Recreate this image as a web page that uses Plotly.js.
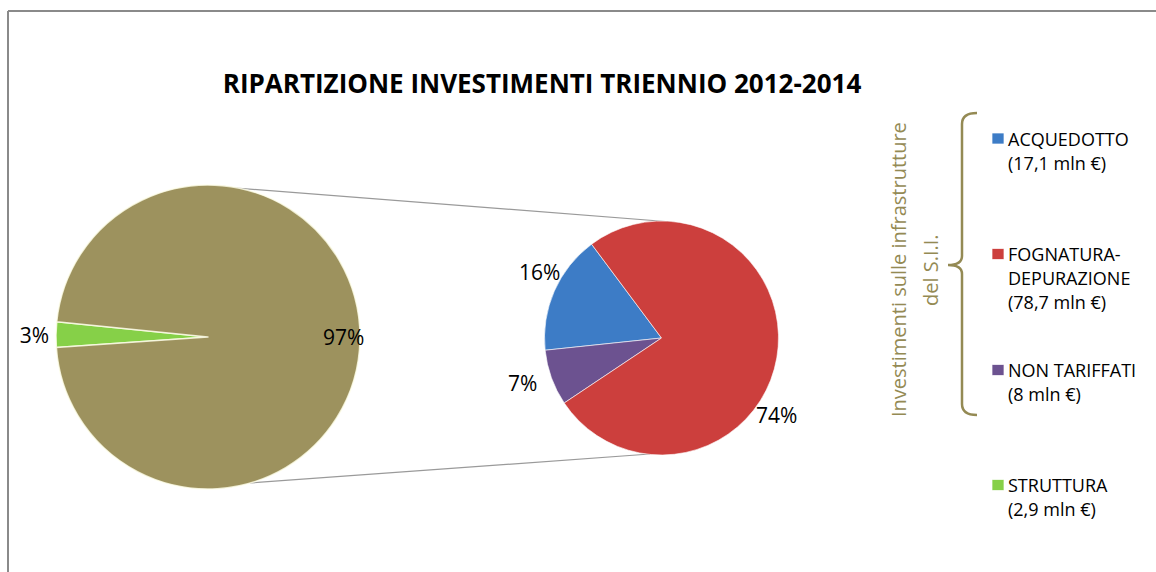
<!DOCTYPE html>
<html>
<head>
<meta charset="utf-8">
<script src="https://cdn.plot.ly/plotly-3.0.1.min.js"></script>
<style>html,body{margin:0;padding:0;background:#fff;}#chart{width:1156px;height:572px;}</style>
</head>
<body>
<div id="chart"></div>
<script>
// ---- data ----
var mainLabels = ['STRUTTURA', 'Investimenti sulle infrastrutture del S.I.I.'];
var subLabels = ['ACQUEDOTTO', 'NON TARIFFATI', 'FOGNATURA-DEPURAZIONE'];
var subValues = [17.1, 8, 78.7];           // mln €
var strutturaValue = 2.9;                  // mln €
var legendNames = ['ACQUEDOTTO', 'FOGNATURA-<br>DEPURAZIONE', 'NON TARIFFATI', 'STRUTTURA'];
var legendValues = [17.1, 78.7, 8, 2.9];
var titleText = 'RIPARTIZIONE INVESTIMENTI TRIENNIO 2012-2014';
var groupLines = ['Investimenti sulle infrastrutture', 'del S.I.I.'];

// ---- derived ----
var siiTotal = subValues.reduce(function(a, b) { return a + b; }, 0);
var mainValues = [strutturaValue, siiTotal];
var grandTotal = siiTotal + strutturaValue;
function pct(v) { return Math.round(v / grandTotal * 100) + '%'; }
function mln(v) { return '(' + String(v).replace('.', ',') + ' mln €)'; }

var W = 1156, H = 572;
var olive = '#9d925e';
var braceColor = '#948A54';
var mainColors = ['#86d048', olive];
var subColors = ['#3d7cc6', '#6c5290', '#cc3f3d'];
var legendColors = ['#3d7cc6', '#cc3f3d', '#6c5290', '#86d048'];
var FAM = 'Open Sans, DejaVu Sans, sans-serif';
var labelFont = {family: FAM, size: 21, color: '#000'};

// pie placement (pixels)
function dom(cx, cy, r) {
  return {x: [(cx - r) / W, (cx + r) / W], y: [(H - cy - r) / H, (H - cy + r) / H]};
}

var traces = [
  {
    type: 'pie', labels: mainLabels, values: mainValues, sort: false,
    direction: 'counterclockwise', rotation: 266,
    marker: {colors: mainColors, line: {color: 'rgba(255,255,235,0.8)', width: 1.5}},
    text: mainValues.map(pct), textinfo: 'text',
    textposition: ['outside', 'none'],
    textfont: labelFont, outsidetextfont: labelFont,
    domain: dom(208, 337, 152), showlegend: false, hoverinfo: 'label+value'
  },
  {
    type: 'pie', labels: subLabels, values: subValues, sort: false,
    direction: 'counterclockwise', rotation: 264,
    marker: {colors: subColors, line: {color: 'rgba(255,255,255,0.6)', width: 1}},
    text: subValues.map(pct), textinfo: 'none', textposition: 'none',
    domain: dom(661.5, 338, 117), showlegend: false, hoverinfo: 'label+value'
  }
];

var shapes = [
  // chart border
  {type: 'line', xref: 'x', yref: 'y', x0: 8, y0: 11, x1: W, y1: 11, line: {color: '#8a8a8a', width: 2}},
  {type: 'line', xref: 'x', yref: 'y', x0: 8, y0: 11, x1: 8, y1: H, line: {color: '#8a8a8a', width: 2}},
  // connector lines
  {type: 'line', xref: 'x', yref: 'y', x0: 210, y0: 186, x1: 672, y1: 222, line: {color: '#9a9a9a', width: 1.2}, layer: 'below'},
  {type: 'line', xref: 'x', yref: 'y', x0: 250, y0: 483, x1: 650, y1: 454, line: {color: '#9a9a9a', width: 1.2}, layer: 'below'},
  // brace
  {type: 'path', xref: 'x', yref: 'y',
   path: 'M 977,113 Q 962,113 962,124 L 962,256 Q 962,265 948,265 Q 962,265 962,274 L 962,404 Q 962,415 977,415',
   line: {color: braceColor, width: 2.5}}
];

var annotations = [
  // label of the large slice
  {xref: 'x', yref: 'y', x: 343, y: 337, text: pct(mainValues[1]), showarrow: false,
   xanchor: 'center', yanchor: 'middle', font: labelFont},
  // group caption (rotated)
  {xref: 'x', yref: 'y', x: 898, y: 270, text: groupLines[0], textangle: -90, showarrow: false,
   xanchor: 'center', yanchor: 'middle', font: {family: FAM, size: 20, color: braceColor}},
  {xref: 'x', yref: 'y', x: 930, y: 270, text: groupLines[1], textangle: -90, showarrow: false,
   xanchor: 'center', yanchor: 'middle', font: {family: FAM, size: 20, color: braceColor}}
];

// data labels of the small pie (Excel best-fit placement)
var subLabelPos = [[539, 272], [522, 383], [776, 415]];
subValues.forEach(function(v, i) {
  annotations.push({xref: 'x', yref: 'y', x: subLabelPos[i][0], y: subLabelPos[i][1], text: pct(v),
    showarrow: false, xanchor: 'center', yanchor: 'middle', font: labelFont});
});

var legendTops = [138.5, 254, 370, 485];
var lineGap = 24;
var legFont = {family: FAM, size: 18, color: '#000'};
legendNames.forEach(function(name, i) {
  var lines = name.split('<br>').concat([mln(legendValues[i])]);
  lines.forEach(function(t, j) {
    annotations.push({xref: 'x', yref: 'y', x: 1006, y: legendTops[i] + j * lineGap, text: t,
      showarrow: false, xanchor: 'left', yanchor: 'middle', align: 'left', font: legFont});
  });
  shapes.push({type: 'rect', xref: 'x', yref: 'y', x0: 992, x1: 1004,
    y0: legendTops[i] - 5.5, y1: legendTops[i] + 5.5,
    fillcolor: legendColors[i], line: {color: 'rgba(255,255,255,0.7)', width: 1}});
});

var layout = {
  width: W, height: H,
  margin: {l: 0, r: 0, t: 0, b: 0, pad: 0},
  paper_bgcolor: '#fff', plot_bgcolor: 'rgba(0,0,0,0)',
  title: {text: titleText, x: 542 / W, xanchor: 'center', y: 1 - 84 / H, yanchor: 'middle',
    font: {family: FAM, size: 26, weight: 'bold', color: '#000'}},
  xaxis: {range: [0, W], visible: false, fixedrange: true},
  yaxis: {range: [H, 0], visible: false, fixedrange: true},
  showlegend: false,
  shapes: shapes,
  annotations: annotations
};

Plotly.newPlot('chart', traces, layout, {displayModeBar: false, staticPlot: true});
</script>
</body>
</html>
